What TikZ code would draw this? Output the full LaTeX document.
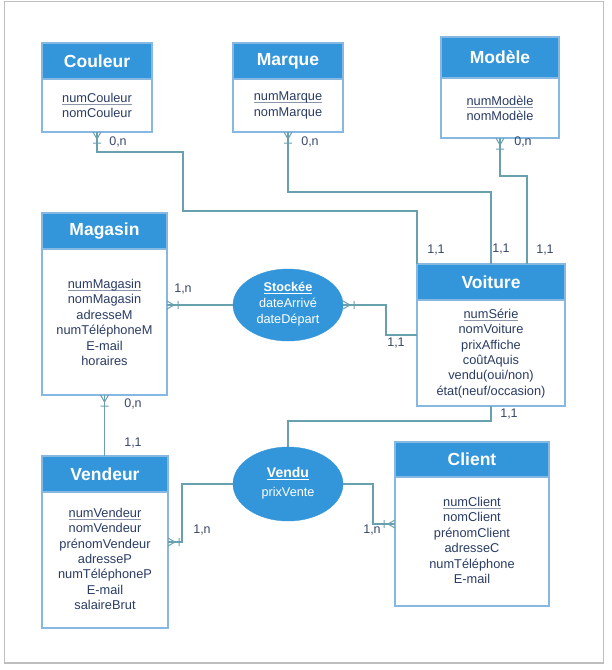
\documentclass[tikz,border=0pt]{standalone}
\usepackage{fontspec}
\setmainfont{Liberation Sans}
\usetikzlibrary{calc,shapes.geometric}
\definecolor{headblue}{RGB}{52,150,218}
\definecolor{boxborder}{RGB}{135,184,226}
\definecolor{connc}{RGB}{104,160,174}
\definecolor{txt}{RGB}{42,60,100}
\definecolor{lbl}{RGB}{55,70,105}
\definecolor{ulgray}{RGB}{140,150,170}
\definecolor{framegray}{RGB}{190,190,190}
\newcommand{\pkey}[1]{\setbox0\hbox{#1}\rlap{\color{ulgray}\rule[-2.2pt]{\wd0}{0.7pt}}\box0}
\newcommand{\wkey}[1]{\setbox0\hbox{#1}\rlap{\color{white}\rule[-2.4pt]{\wd0}{0.8pt}}\box0}
\tikzset{
  ent/.style={draw=boxborder, line width=1.3pt, fill=white, inner sep=0pt, outer sep=0pt},
  ehead/.style={draw=boxborder, line width=1.3pt, fill=headblue, text=white,
    font=\fontsize{17.5}{20}\selectfont\bfseries, inner sep=0pt, outer sep=0pt},
  attr/.style={text=txt, align=center, font=\fontsize{12.8}{15.4}\selectfont, inner sep=0pt},
  rel/.style={ellipse, fill=headblue, draw=headblue, text=white, align=center, inner sep=0pt, outer sep=0pt},
  conn/.style={draw=connc, line width=1.2pt},
  card/.style={text=lbl, font=\fontsize{12.5}{14}\selectfont, inner sep=0pt},
  crowfoot/.pic={\draw[connc, line width=1pt] (0,-4)--(7,0) (0,4)--(7,0) (11,-4)--(11,4);}
}
\begin{document}
\begin{tikzpicture}[x=1pt,y=-1pt]
\useasboundingbox (0,0) rectangle (612,670);
\draw[framegray, line width=1.5pt] (4.5,1.5) rectangle (603.5,663);

% Entities
\node[ent, minimum width=110pt, minimum height=89pt] (couleur) at (97,87.5) {};
\node[ehead, minimum width=110pt, minimum height=36pt, anchor=north] (couleurH) at (couleur.north) {Couleur};
\node[attr] (couleurA) at (97,105.5) {\pkey{numCouleur}\\nomCouleur};

\node[ent, minimum width=110pt, minimum height=89pt] (marque) at (288,87.5) {};
\node[ehead, minimum width=110pt, minimum height=36pt, anchor=north] (marqueH) at (marque.north) {Marque};
\node[attr] (marqueA) at (288,105.5) {\pkey{numMarque}\\nomMarque};

\node[ent, minimum width=118pt, minimum height=101pt] (modele) at (500,87.5) {};
\node[ehead, minimum width=118pt, minimum height=41pt, anchor=north] (modeleH) at (modele.north) {Modèle};
\node[attr] (modeleA) at (500,108.5) {\pkey{numModèle}\\nomModèle};

\node[ent, minimum width=125pt, minimum height=182pt] (magasin) at (104.5,304) {};
\node[ehead, minimum width=125pt, minimum height=36pt, anchor=north] (magasinH) at (magasin.north) {Magasin};
\node[attr] (magasinA) at (104.5,322.5) {\pkey{numMagasin}\\nomMagasin\\adresseM\\numTéléphoneM\\E-mail\\horaires};

\node[ent, minimum width=148pt, minimum height=142pt] (voiture) at (491,335) {};
\node[ehead, minimum width=148pt, minimum height=36pt, anchor=north] (voitureH) at (voiture.north) {Voiture};
\node[attr] (voitureA) at (491,353.5) {\pkey{numSérie}\\nomVoiture\\prixAffiche\\coûtAquis\\vendu(oui/non)\\état(neuf/occasion)};

\node[ent, minimum width=126pt, minimum height=172pt] (vendeur) at (105,542) {};
\node[ehead, minimum width=126pt, minimum height=36pt, anchor=north] (vendeurH) at (vendeur.north) {Vendeur};
\node[attr] (vendeurA) at (105,559) {\pkey{numVendeur}\\nomVendeur\\prénomVendeur\\adresseP\\numTéléphoneP\\E-mail\\salaireBrut};

\node[ent, minimum width=154pt, minimum height=164pt] (client) at (472,524) {};
\node[ehead, minimum width=154pt, minimum height=35pt, anchor=north] (clientH) at (client.north) {Client};
\node[attr] (clientA) at (472,540.5) {\pkey{numClient}\\nomClient\\prénomClient\\adresseC\\numTéléphone\\E-mail};

% Relations
\node[rel, minimum width=110pt, minimum height=72pt] (stockee) at (288,305) {};
\node[text=white, align=center, inner sep=0pt, font=\fontsize{12.7}{16}\selectfont] (stockeeT) at (288,304)
  {{\bfseries\wkey{Stockée}}\\dateArrivé\\dateDépart};
\node[rel, minimum width=110pt, minimum height=74pt] (vendu) at (288,484) {};
\node[text=white, align=center, inner sep=0pt, font=\fontsize{12.7}{19}\selectfont] (venduT) at (288,483)
  {{\fontsize{14}{16}\selectfont\bfseries\wkey{Vendu}}\\prixVente};

% Connectors
\draw[conn] (couleur.south) -- ++(0,20) -| (183,211) -| (voiture.north west);
\draw[conn] (marque.south) |- ($(voiture.north)+(0,-72)$) -- (voiture.north);
\draw[conn] (modele.south) -- ++(0,38) -| ($(voiture.north)+(36,0)$);
\draw[conn] (magasin.east |- stockee.west) -- (stockee.west);
\draw[conn] (stockee.east) -- ++(43,0) |- (voiture.west);
\draw[conn] (magasin.south) -- (vendeur.north -| magasin.south);
\draw[conn] (vendu.north) |- ($(voiture.south)+(0,15)$) -- (voiture.south);
\draw[conn] (vendu.west) -| ($(vendeur.east)+(14,0)$) -- (vendeur.east);
\draw[conn] (vendu.east) -| ($(client.west)+(-22,0)$) -- (client.west);

% Crow's feet
\pic[rotate=-90] at (couleur.south) {crowfoot};
\pic[rotate=-90] at (marque.south) {crowfoot};
\pic[rotate=-90] at (modele.south) {crowfoot};
\pic[rotate=-90] at (magasin.south) {crowfoot};
\pic at (magasin.east |- stockee.west) {crowfoot};
\pic at (stockee.east) {crowfoot};
\pic at (vendeur.east) {crowfoot};
\pic[rotate=180] at (client.west) {crowfoot};

% Cardinalities
\node[card] (c1) at (118,142) {0,n};
\node[card] (c2) at (310,142) {0,n};
\node[card] (c3) at (523,142) {0,n};
\node[card] (c4) at (436,250) {1,1};
\node[card] (c5) at (501,249) {1,1};
\node[card] (c6) at (545,250) {1,1};
\node[card] (c7) at (183,289) {1,n};
\node[card] (c8) at (396,343) {1,1};
\node[card] (c9) at (133,404) {0,n};
\node[card] (c10) at (133,443) {1,1};
\node[card] (c11) at (509,414) {1,1};
\node[card] (c12) at (202,530) {1,n};
\node[card] (c13) at (372,530) {1,n};
\end{tikzpicture}
\end{document}
